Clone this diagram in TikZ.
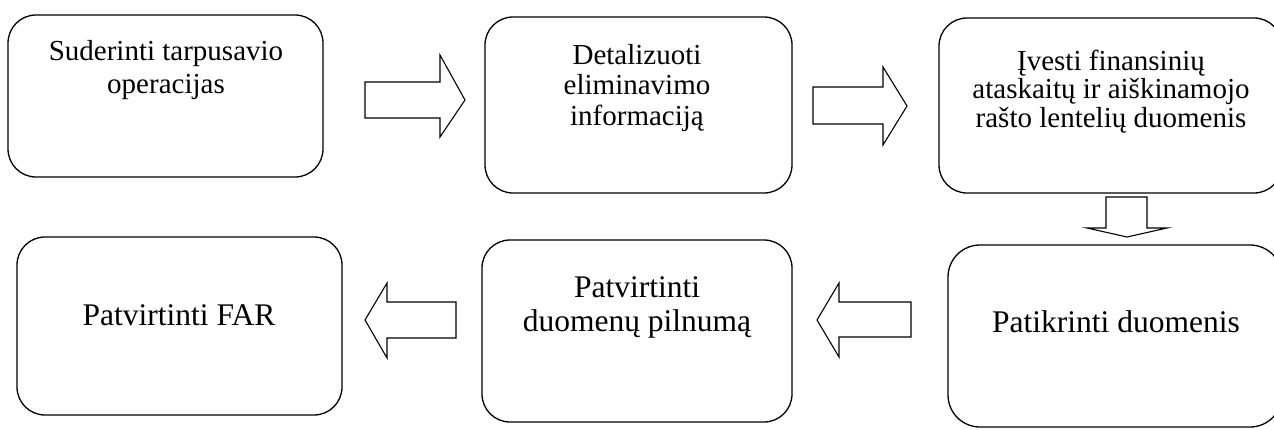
\documentclass[tikz,border=0pt]{standalone}
\usepackage{fontspec}
\setmainfont{Liberation Serif}
\begin{document}
\begin{tikzpicture}[x=1pt,y=-1pt,
  stepbox/.style={draw,line width=1.3pt,rounded corners=28pt},
  anchorpt/.style={inner sep=0pt,outer sep=0pt},
  blockarrow/.style={draw,line width=1.1pt,line join=miter},
  boxtext/.style={align=center,anchor=base,inner sep=0pt}]
\useasboundingbox (0,0) rectangle (1274,429);
\clip (0,0) rectangle (1274,429);
% boxes
\draw[stepbox] (8,15) rectangle (323,177);
\node[anchorpt] (b1) at (165.5,96) {};
\draw[stepbox] (485,17) rectangle (792,193);
\node[anchorpt] (b2) at (638.5,105) {};
\draw[stepbox] (939,18) rectangle (1282,193);
\node[anchorpt] (b3) at (1110,105) {};
\draw[stepbox,rounded corners=32pt] (948,245) rectangle (1282,427);
\node[anchorpt] (b4) at (1115,336) {};
\draw[stepbox] (482,240) rectangle (792,422);
\node[anchorpt] (b5) at (637,331) {};
\draw[stepbox] (17,237) rectangle (342,415);
\node[anchorpt] (b6) at (179.5,326) {};
% texts (anchor base = last line's baseline)
\node[boxtext,font=\fontsize{29}{33}\selectfont] (t1) at (166,93) {Suderinti tarpusavio\\operacijas};
\node[boxtext,font=\fontsize{29}{30.5}\selectfont] (t2) at (637,125) {Detalizuoti\\eliminavimo\\informaciją};
\node[boxtext,font=\fontsize{29}{28.5}\selectfont] (t3) at (1111,127) {Įvesti finansinių\\ataskaitų ir aiškinamojo\\rašto lentelių duomenis};
\node[boxtext,font=\fontsize{31.5}{33}\selectfont] (t4) at (1116,332) {Patikrinti duomenis};
\node[boxtext,font=\fontsize{31.5}{34}\selectfont] (t5) at (637,331) {Patvirtinti\\duomenų pilnumą};
\node[boxtext,font=\fontsize{31.5}{33}\selectfont] (t6) at (179,325) {Patvirtinti FAR};
% block arrows (hollow outline arrows between boxes)
\coordinate (a1) at (465,100);
\draw[blockarrow] (365,82) -- (440,82) -- (440,55) -- (a1) -- (440,137) -- (440,118) -- (365,118) -- cycle;
\coordinate (a2) at (907,106);
\draw[blockarrow] (813,87) -- (883,87) -- (883,67) -- (a2) -- (883,145) -- (883,124) -- (813,124) -- cycle;
\coordinate (a3) at (1127,237);
\draw[blockarrow] (1106,197) -- (1147,197) -- (1147,228) -- (1167,228) -- (a3) -- (1087,228) -- (1106,228) -- cycle;
\coordinate (a4) at (817,320);
\draw[blockarrow] (911,302) -- (839,302) -- (839,283) -- (a4) -- (839,357) -- (839,337) -- (911,337) -- cycle;
\coordinate (a5) at (365,320);
\draw[blockarrow] (456,302) -- (387,302) -- (387,283) -- (a5) -- (387,358) -- (387,338) -- (456,338) -- cycle;
\end{tikzpicture}
\end{document}
